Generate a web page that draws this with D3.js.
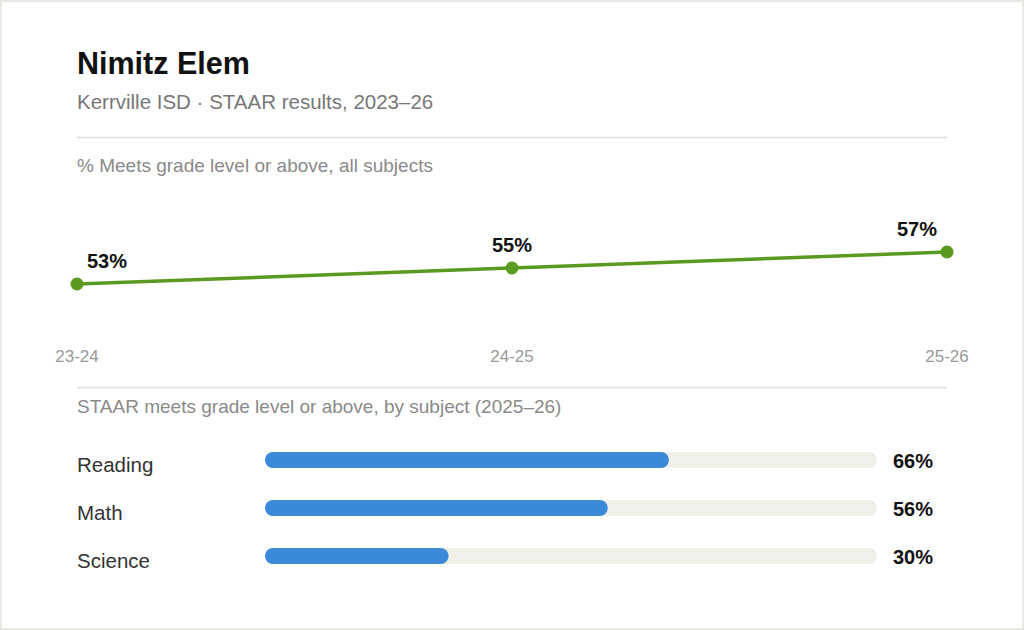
<!DOCTYPE html>
<html>
<head>
<meta charset="utf-8">
<script src="https://cdn.jsdelivr.net/npm/d3@7"></script>
<style>
  html, body { margin: 0; padding: 0; background: #e9e9e4; }
  svg { display: block; font-family: "Liberation Sans", Arial, Helvetica, sans-serif; }
</style>
</head>
<body>
<svg id="chart" width="1024" height="630"></svg>
<script>
// data
const schoolName = "Nimitz Elem";
const subtitle = "Kerrville ISD \u00b7 STAAR results, 2023\u201326";
const trendLabel = "% Meets grade level or above, all subjects";
const subjectLabel = "STAAR meets grade level or above, by subject (2025\u201326)";

const years = ["23-24", "24-25", "25-26"];
const meetsAll = [53, 55, 57];

const subjects = ["Reading", "Math", "Science"];
const subjectMeets = [66, 56, 30];

const GREEN = "#5a9a21";
const BLUE = "#3a8ad9";
const TRACK = "#f0efea";
const RULE = "#e2e2dc";

const width = 1024, height = 630;
const left = 77, right = 947;

const svg = d3.select("#chart");

// card
svg.append("rect")
    .attr("x", 2).attr("y", 2)
    .attr("width", width - 4).attr("height", height - 4)
    .attr("fill", "#fff");

// header
svg.append("text")
    .attr("x", left).attr("y", 74)
    .attr("font-size", 30.5).attr("font-weight", 700)
    .attr("fill", "#111")
    .text(schoolName);

svg.append("text")
    .attr("x", left).attr("y", 109)
    .attr("font-size", 20.5)
    .attr("fill", "#777")
    .text(subtitle);

svg.append("line")
    .attr("x1", left).attr("x2", right)
    .attr("y1", 137.5).attr("y2", 137.5)
    .attr("stroke", RULE).attr("stroke-width", 1.5);

svg.append("text")
    .attr("x", left).attr("y", 172)
    .attr("font-size", 19)
    .attr("fill", "#8a8a8a")
    .text(trendLabel);

// trend line
const x = d3.scalePoint().domain(years).range([left, right]);
const y = d3.scaleLinear().domain([50, 60]).range([308, 228]);

const trend = years.map((yr, i) => ({ yr, v: meetsAll[i], i }));

svg.append("path")
    .datum(trend)
    .attr("fill", "none")
    .attr("stroke", GREEN)
    .attr("stroke-width", 3.5)
    .attr("d", d3.line().x(d => x(d.yr)).y(d => y(d.v)));

svg.selectAll("circle.pt").data(trend).enter()
    .append("circle")
    .attr("class", "pt")
    .attr("cx", d => x(d.yr)).attr("cy", d => y(d.v))
    .attr("r", 6.5)
    .attr("fill", GREEN);

const lastIdx = trend.length - 1;
svg.selectAll("text.pt-label").data(trend).enter()
    .append("text")
    .attr("class", "pt-label")
    .attr("x", d => d.i === 0 ? x(d.yr) + 10 : d.i === lastIdx ? x(d.yr) - 10 : x(d.yr))
    .attr("y", d => y(d.v) - 16)
    .attr("text-anchor", d => d.i === 0 ? "start" : d.i === lastIdx ? "end" : "middle")
    .attr("font-size", 20).attr("font-weight", 700)
    .attr("fill", "#111")
    .text(d => `${d.v}%`);

svg.selectAll("text.yr").data(years).enter()
    .append("text")
    .attr("class", "yr")
    .attr("x", d => x(d)).attr("y", 362)
    .attr("text-anchor", "middle")
    .attr("font-size", 17)
    .attr("fill", "#999")
    .text(d => d);

svg.append("line")
    .attr("x1", left).attr("x2", right)
    .attr("y1", 387.5).attr("y2", 387.5)
    .attr("stroke", RULE).attr("stroke-width", 1.5);

svg.append("text")
    .attr("x", left).attr("y", 413)
    .attr("font-size", 19)
    .attr("fill", "#8a8a8a")
    .text(subjectLabel);

// subject bars
const bx = d3.scaleLinear().domain([0, 100]).range([265, 877]);
const by = d3.scalePoint().domain(subjects).range([460, 556]);
const barH = 16;

const rows = svg.selectAll("g.row")
    .data(subjects.map((s, i) => ({ s, v: subjectMeets[i] })))
    .enter()
    .append("g")
    .attr("class", "row")
    .attr("transform", d => `translate(0,${by(d.s)})`);

rows.append("rect")
    .attr("x", bx(0)).attr("y", -barH / 2)
    .attr("width", bx(100) - bx(0)).attr("height", barH)
    .attr("rx", barH / 2)
    .attr("fill", TRACK);

rows.append("rect")
    .attr("x", bx(0)).attr("y", -barH / 2)
    .attr("width", d => bx(d.v) - bx(0)).attr("height", barH)
    .attr("rx", barH / 2)
    .attr("fill", BLUE);

rows.append("text")
    .attr("x", left).attr("y", 12)
    .attr("font-size", 20.5)
    .attr("fill", "#333")
    .text(d => d.s);

rows.append("text")
    .attr("x", 893).attr("y", 8)
    .attr("font-size", 20).attr("font-weight", 700)
    .attr("fill", "#111")
    .text(d => `${d.v}%`);
</script>
</body>
</html>
